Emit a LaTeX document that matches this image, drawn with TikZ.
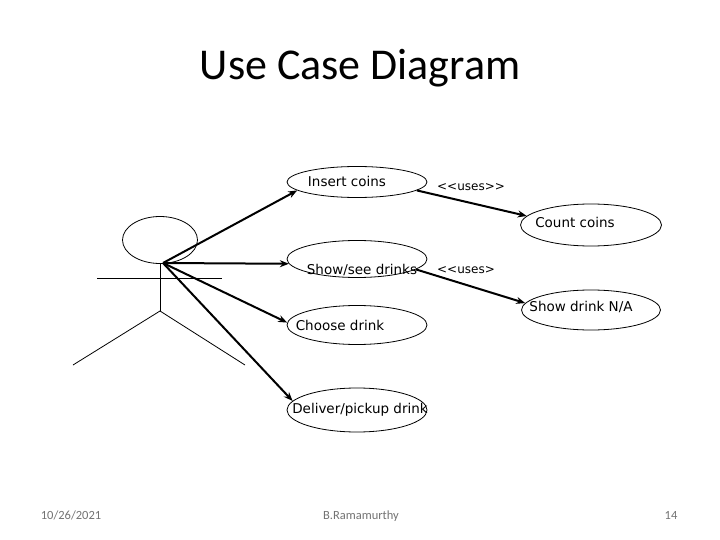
\documentclass[tikz,border=0pt]{standalone}
\usepackage{fontspec}
\setmainfont{DejaVu Sans}
\newfontfamily\titlefont{Carlito}
\usetikzlibrary{shapes.geometric,arrows.meta}
\tikzset{
  uc/.style={draw, ellipse, line width=0.8pt, minimum width=140pt, inner sep=0pt},
  txt/.style={font=\fontsize{13.5}{15}\selectfont, inner sep=0pt},
  lbl/.style={font=\fontsize{12}{14}\selectfont, inner sep=0pt},
  foot/.style={font=\titlefont\fontsize{12.5}{14}\selectfont, text=black!55, inner sep=0pt, anchor=base},
  conn/.style={line width=2pt, -{Stealth[length=9pt,width=7pt]}},
  limb/.style={line width=0.8pt}
}
\begin{document}
\begin{tikzpicture}[x=1pt,y=-1pt]
\useasboundingbox (0,0) rectangle (720,540);
\fill[white] (0,0) rectangle (720,540);
% title
\node[font=\titlefont\fontsize{44}{50}\selectfont, inner sep=0pt] (title) at (360,68) {Use Case Diagram};
% actor
\node[draw, ellipse, line width=0.8pt, minimum width=75pt, minimum height=47pt, inner sep=0pt] (head) at (160,240) {};
\coordinate (neck) at (160,263);
\coordinate (hip) at (160,311);
\coordinate (armL) at (97,278);
\coordinate (armR) at (222,278);
\coordinate (legL) at (73,365);
\coordinate (legR) at (245,365);
\coordinate (hand) at (163,263);
\draw[limb] (neck) -- (hip);
\draw[limb] (armL) -- (armR);
\draw[limb] (legL) -- (hip) -- (legR);
% use cases
\node[uc, minimum height=31pt] (ic) at (357,182) {};
\node[txt] (ict) at (347,181) {Insert coins};
\node[uc, minimum height=42pt, minimum width=141pt] (cc) at (591,225) {};
\node[txt] (cct) at (575,222) {Count coins};
\node[uc, minimum height=37pt] (sd) at (357,259) {};
\node[txt] (sdt) at (362,270) {Show/see drinks};
\node[uc, minimum height=40pt, minimum width=139pt] (na) at (591,310) {};
\node[txt] (nat) at (581,307) {Show drink N/A};
\node[uc, minimum height=39pt] (ch) at (357,325) {};
\node[txt] (cht) at (340,325) {Choose drink};
\node[uc, minimum height=44pt] (dl) at (357,410) {};
\node[txt] (dlt) at (360,410) {Deliver/pickup drink};
% connectors
\draw[conn] (hand) -- (ic.-172);
\draw[conn] (hand) -- (sd.-176);
\draw[conn] (hand) -- (ch.178);
\draw[conn] (hand) -- (dl.172);
\draw[conn] (ic.-8) -- (cc.172);
\draw[conn] (sd.-10) -- (na.174);
\node[lbl] (u1) at (471,187) {{<}{<}uses{>}{>}};
\node[lbl] (u2) at (466,270) {{<}{<}uses{>}};
% footer
\node[foot] (date) at (71,519) {10/26/2021};
\node[foot] (auth) at (361,519) {B.Ramamurthy};
\node[foot] (page) at (671,519) {14};
\end{tikzpicture}
\end{document}
